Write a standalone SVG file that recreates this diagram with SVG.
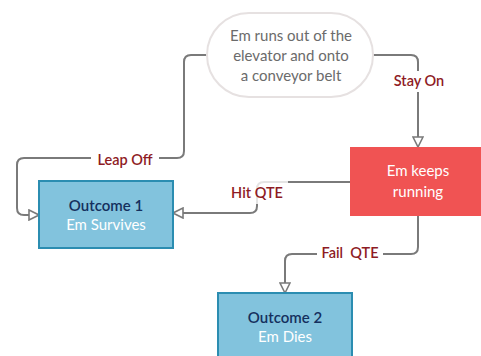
<svg xmlns="http://www.w3.org/2000/svg" width="481" height="356" viewBox="0 0 481 356">
  <style>
    .wire { fill: none; stroke: #7a7a7a; stroke-width: 2; }
    .lbl { font-family: Lato, "Open Sans", sans-serif; font-size: 14.5px; font-weight: 600; fill: #8e1b24; text-anchor: middle; }
    .txt { font-family: Lato, "Open Sans", sans-serif; font-size: 15px; text-anchor: middle; }
    .title { font-weight: 600; }
    .outcome { fill: #82c3dd; stroke: #2b8db1; stroke-width: 2; }
  </style>
  <defs>
    <marker id="hollow" viewBox="0 0 12 12" refX="11" refY="6" markerWidth="12" markerHeight="12" markerUnits="userSpaceOnUse" orient="auto">
      <path d="M1,1 L11,6 L1,11 Z" fill="#ffffff" stroke="#7a7a7a" stroke-width="1.6"/>
    </marker>
  </defs>
  <rect width="481" height="356" fill="#ffffff"/>

  <g id="connectors">
    <!-- Leap Off -->
    <path class="wire" d="M207,55 H191 Q184,55 184,62 V151 Q184,158 177,158 H24 Q17,158 17,165 V208 Q17,215 24,215 H39" marker-end="url(#hollow)"/>
    <!-- Stay On -->
    <path class="wire" d="M372,55 H411 Q418,55 418,62 V147" marker-end="url(#hollow)"/>
    <!-- Hit QTE -->
    <path class="wire" d="M350,182 H264 Q257,182 257,189 V206 Q257,213 250,213 H173" marker-end="url(#hollow)"/>
    <!-- Fail QTE -->
    <path class="wire" d="M418,216 V247 Q418,254 411,254 H292 Q285,254 285,261 V293" marker-end="url(#hollow)"/>

    <!-- label backgrounds -->
    <rect x="91" y="149" width="68" height="19" fill="#ffffff"/>
    <rect x="388" y="71" width="62" height="21" fill="#ffffff"/>
    <rect x="226" y="181" width="62" height="23" fill="#ffffff" fill-opacity="0.8"/>
    <rect x="317" y="244" width="66" height="19" fill="#ffffff"/>

    <text class="lbl" x="125" y="165">Leap Off</text>
    <text class="lbl" x="419" y="86">Stay On</text>
    <text class="lbl" x="257" y="198">Hit QTE</text>
    <text class="lbl" x="350" y="258" xml:space="preserve">Fail  QTE</text>
  </g>

  <g id="start">
    <rect x="207" y="13" width="166" height="84" rx="42" ry="42" fill="#ffffff" stroke="#e6e1e1" stroke-width="2"/>
    <text class="txt" fill="#6b6b6b" x="291" y="41">Em runs out of the</text>
    <text class="txt" fill="#6b6b6b" x="291" y="61">elevator and onto</text>
    <text class="txt" fill="#6b6b6b" x="291" y="81">a conveyor belt</text>
  </g>

  <g id="keep-running">
    <rect x="350" y="147" width="131" height="69" fill="#f05353"/>
    <text class="txt" fill="#ffffff" x="418" y="176">Em keeps</text>
    <text class="txt" fill="#ffffff" x="418" y="197">running</text>
  </g>

  <g id="outcome-1">
    <rect class="outcome" x="39" y="181" width="134" height="67"/>
    <text class="txt title" fill="#15305e" x="106" y="211">Outcome 1</text>
    <text class="txt" fill="#ffffff" x="106" y="230">Em Survives</text>
  </g>

  <g id="outcome-2">
    <rect class="outcome" x="218" y="293" width="134" height="70"/>
    <text class="txt title" fill="#15305e" x="285" y="323">Outcome 2</text>
    <text class="txt" fill="#ffffff" x="285" y="342">Em Dies</text>
  </g>
</svg>
